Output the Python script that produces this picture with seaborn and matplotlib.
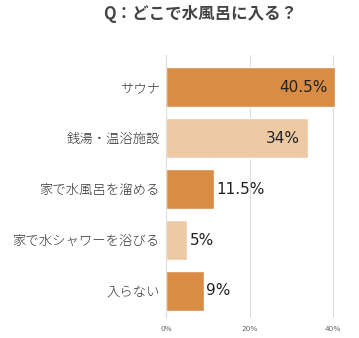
import matplotlib
matplotlib.use("Agg")
import matplotlib.pyplot as plt
import seaborn as sns
import pandas as pd

categories = ["サウナ", "銭湯・温浴施設", "家で水風呂を溜める", "家で水シャワーを浴びる", "入らない"]
values = [40.5, 34, 11.5, 5, 9]
value_labels = ["40.5%", "34%", "11.5%", "5%", "9%"]
tick_values = [0, 20, 40]
tick_labels = ["0%", "20%", "40%"]

DARK = "#D88C44"
LIGHT = "#EDCAA3"
colors = [DARK, LIGHT, DARK, LIGHT, DARK]

sns.set_theme(style="white")
plt.rcParams["font.family"] = ["Noto Sans CJK JP", "DejaVu Sans"]

df = pd.DataFrame({"cat": categories, "val": values})

fig = plt.figure(figsize=(3.59, 3.38), dpi=100)
W, H = 359, 338
left, right, top, bottom = 166, 339.3, 55, 318
ax = fig.add_axes([left / W, 1 - bottom / H, (right - left) / W, (bottom - top) / H])

sns.barplot(data=df, x="val", y="cat", hue="cat", palette=colors, legend=False,
            width=0.78, saturation=1, ax=ax, orient="h")

ax.set_xlim(0, 41.5)
ax.set_ylim(4.53, -0.63)
ax.set_xticks(tick_values)
ax.set_xticklabels(tick_labels, fontsize=5.3, color="#666666", family=["DejaVu Sans"])
ax.tick_params(axis="x", length=0, pad=6)
ax.tick_params(axis="y", length=0, pad=4.5)
for lab in ax.get_yticklabels():
    lab.set_fontsize(9.6)
    lab.set_fontweight("light")
    lab.set_color("#333333")
ax.set_xlabel("")
ax.set_ylabel("")
ax.grid(axis="x", color="#dddddd", linewidth=0.8)
ax.set_axisbelow(True)
for s in ["top", "right", "bottom"]:
    ax.spines[s].set_visible(False)
ax.spines["left"].set_color("#dddddd")
ax.spines["left"].set_linewidth(0.8)

for i, (v, t) in enumerate(zip(values, value_labels)):
    if v > 30:
        ax.text(v - 1.9, i, t, ha="right", va="center", fontsize=11, color="#222222",
                family=["DejaVu Sans"])
    else:
        ax.text(v + 0.6, i, t, ha="left", va="center", fontsize=11, color="#222222",
                family=["DejaVu Sans"])

fig.text(200 / W, 1 - 14 / H, "Q：どこで水風呂に入る？", ha="center", va="center",
         fontsize=11.9, fontweight="bold", color="#444444")

fig.savefig("out.png", dpi=100)
